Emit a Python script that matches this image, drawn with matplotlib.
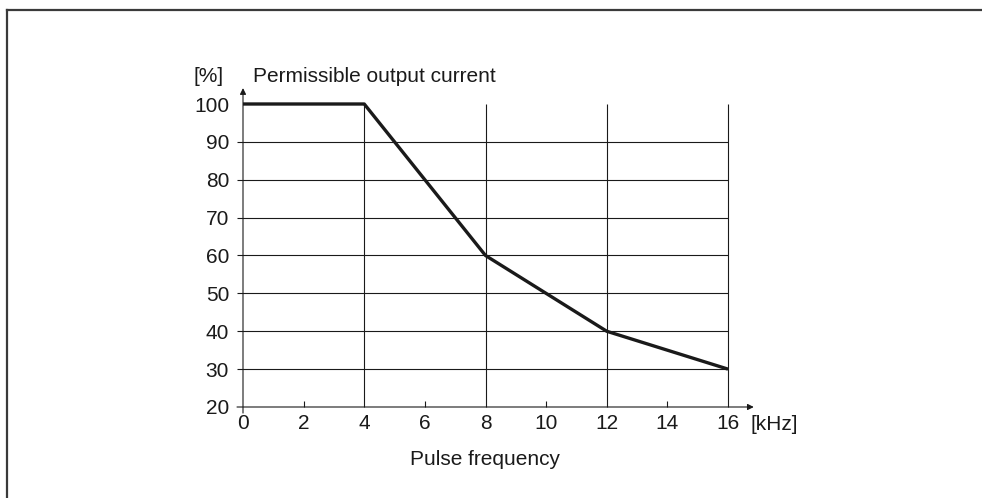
import matplotlib
matplotlib.use("Agg")
import matplotlib.pyplot as plt

# derating curve: permissible output current vs pulse frequency
freq_khz = [0, 4, 8, 12, 16]
current_pct = [100, 100, 60, 40, 30]

x_labels = [0, 2, 4, 6, 8, 10, 12, 14, 16]
y_labels = [20, 30, 40, 50, 60, 70, 80, 90, 100]
x_grid = [4, 8, 12, 16]
y_grid = [30, 40, 50, 60, 70, 80, 90]
x_minor = [2, 6, 10, 14]

plt.rcParams['font.family'] = ['Liberation Sans', 'DejaVu Sans']
ink = '#1a1a1a'
fs = 15

W, H = 982, 498
fig = plt.figure(figsize=(W / 100, H / 100), dpi=100)

# outer frame (only left and top edges show)
fig.add_artist(plt.Line2D([7 / W, 7 / W], [0, 1 - 10 / H], color='#3a3a3a', lw=1.6))
fig.add_artist(plt.Line2D([7 / W, 1], [1 - 10 / H, 1 - 10 / H], color='#3a3a3a', lw=1.6))

x0, x1 = 243, 728
y0, y1 = 407, 104
ax = fig.add_axes([x0 / W, 1 - y0 / H, (x1 - x0) / W, (y0 - y1) / H])
ax.set_xlim(0, 16)
ax.set_ylim(20, 100)
for s in ax.spines.values():
    s.set_visible(False)

ax.set_xticks(x_labels)
ax.set_xticklabels([str(v) for v in x_labels])
ax.set_yticks(y_labels)
ax.set_yticklabels([str(v) for v in y_labels])
ax.tick_params(length=0, labelsize=fs, colors=ink)
ax.tick_params(axis='y', pad=10)
ax.tick_params(axis='x', pad=5)

ext = 6 / ((x1 - x0) / 16)  # small overhang left of the y axis

# grid
ax.hlines(y_grid, -ext, 16, color=ink, lw=0.8, clip_on=False)
ax.vlines(x_grid, 20, 100, color=ink, lw=0.8, clip_on=False)
# short ticks between the grid columns
ax.vlines(x_minor, 20, 21.6, color=ink, lw=0.8, clip_on=False)

# axes with arrow heads
ax.annotate('', xy=(16.85, 20), xytext=(-ext, 20),
            arrowprops=dict(arrowstyle='-|>', color=ink, lw=0.8,
                            mutation_scale=9, shrinkA=0, shrinkB=0),
            annotation_clip=False)
ax.annotate('', xy=(0, 104.2), xytext=(0, 18.4),
            arrowprops=dict(arrowstyle='-|>', color=ink, lw=0.8,
                            mutation_scale=9, shrinkA=0, shrinkB=0),
            annotation_clip=False)

ax.plot(freq_khz, current_pct, color=ink, lw=2.4, solid_capstyle='butt',
        clip_on=False, zorder=5)

ax.text(-1.15, 105.8, '[%]', fontsize=fs, color=ink, ha='center', va='baseline')
ax.text(0.33, 105.8, 'Permissible output current', fontsize=fs, color=ink,
        ha='left', va='baseline')
ax.text(16.73, 20 - 23 / 3.79, '[kHz]', fontsize=fs, color=ink,
        ha='left', va='baseline')
ax.text(8, 20 - 58 / 3.79, 'Pulse frequency', fontsize=fs, color=ink,
        ha='center', va='baseline')

fig.savefig('out.png', dpi=100)
